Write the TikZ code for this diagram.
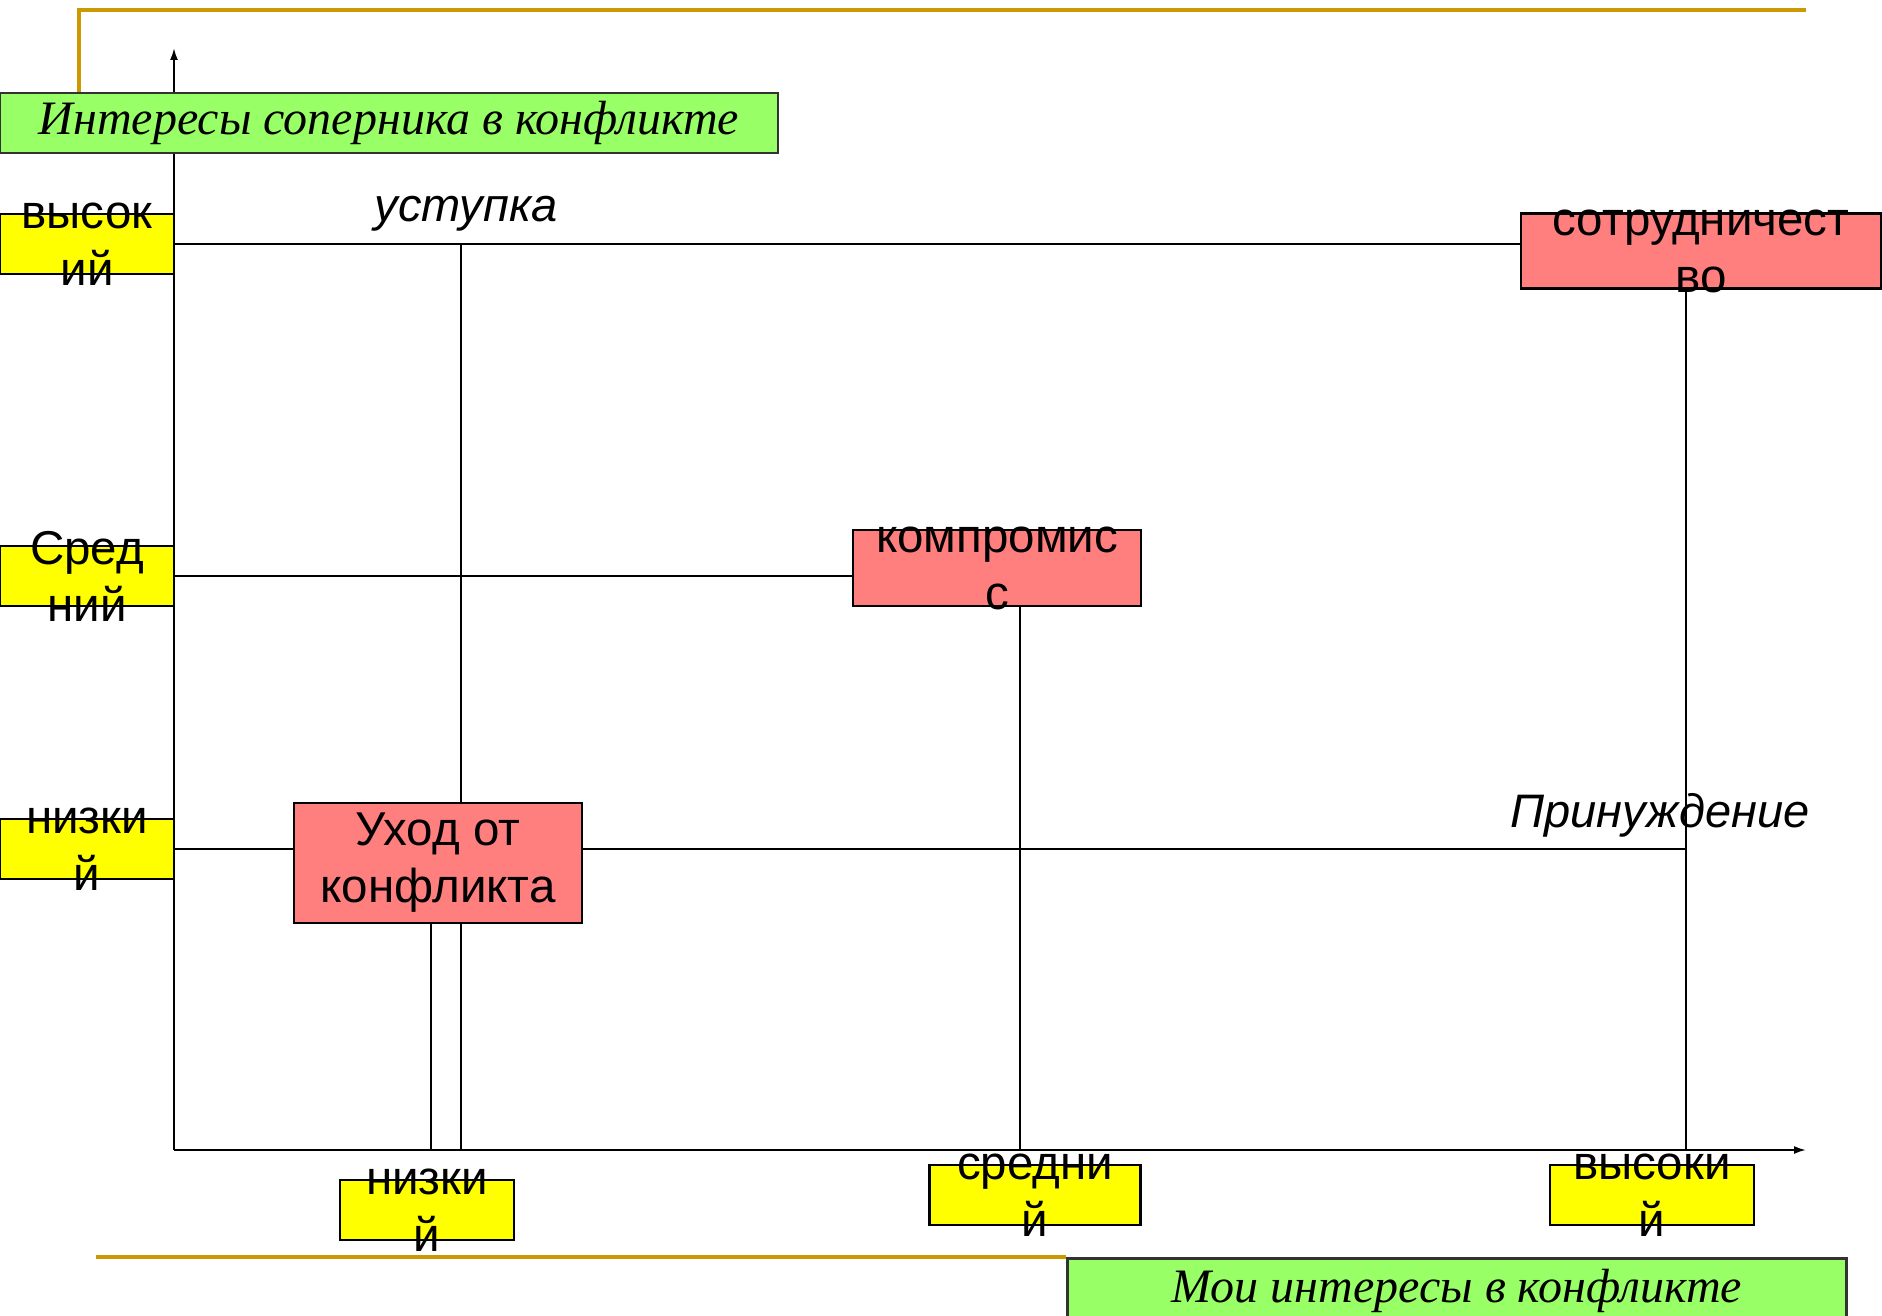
\documentclass[tikz,border=0pt]{standalone}
\usepackage{fontspec}
\setmainfont{Liberation Sans}
\newfontfamily\timesfont{Liberation Serif}
\usepackage{xcolor}
\definecolor{FrameGold}{HTML}{CC9900}
\definecolor{TitleGreen}{HTML}{99FF66}
\definecolor{LevelYellow}{HTML}{FFFF00}
\definecolor{StratRed}{HTML}{FF7F7F}
\usepackage{tikz}
\usetikzlibrary{arrows.meta}

\begin{document}
\begin{tikzpicture}[x=1pt,y=-1pt,>={Latex[length=12pt,width=8pt]},line width=2pt,
title/.style={draw=black!80,fill=TitleGreen,line width=2.5pt,minimum height=60pt,inner sep=0pt,font=\timesfont\itshape\fontsize{48}{58}\selectfont},
level/.style={draw,fill=LevelYellow,line width=2.5pt,minimum height=60pt,inner sep=0pt},
strat/.style={draw,fill=StratRed,line width=2.5pt,inner sep=0pt,align=center,font=\fontsize{47.5}{57}\selectfont},
inside/.style={align=center,inner sep=0pt,font=\fontsize{47.5}{57}\selectfont},
tag/.style={anchor=base,inner sep=0pt,font=\itshape\fontsize{47}{57}\selectfont}]
\clip (0,0) rectangle (1882,1316);
\coordinate (o) at (174,1150);\coordinate (ytip) at (174,48);\coordinate (xtip) at (1806,1150);
\coordinate (uv) at (461,1150);\coordinate (wv) at (431,1150);\coordinate (kv) at (1020,1150);\coordinate (pv) at (1686,1150);
% frame and axes
\draw[FrameGold,line width=4pt] (79,92) -- (79,10) -- (1806,10);
\draw[->] (o)--(ytip);\draw[->] (o)--(xtip);
% titles
\node[title,minimum width=778pt] (gtop) at (389,123) {Интересы соперника в конфликте};
\node[title,minimum width=779pt,minimum height=66pt,anchor=north west] (gbot) at (1066,1257) {Мои интересы в конфликте};
\draw[FrameGold,line width=4pt] (gbot.north west) -- ++(-970,0);
% levels
\node[level,minimum width=174pt,label={[inside]center:{высок\\ий}}] (yhigh) at (87,244) {};
\node[level,minimum width=174pt,label={[inside]center:{Сред\\ний}}] (ymid) at (87,576) {};
\node[level,minimum width=174pt,label={[inside]center:{низки\\й}}] (ylow) at (87,849) {};
\node[level,minimum width=174pt,label={[inside]center:{низки\\й}}] (xlow) at (427,1210) {};
\node[level,minimum width=211pt,label={[inside]center:{средни\\й}}] (xmid) at (1035,1195) {};
\node[level,minimum width=204pt,label={[inside]center:{высоки\\й}}] (xhigh) at (1652,1195) {};
% strategies
\node[strat,minimum width=360pt,minimum height=75pt,label={[inside]center:{сотрудничест\\во}}] (coop) at (1701,251) {};
\node[strat,minimum width=288pt,minimum height=76pt,label={[inside]center:{компромис\\с}}] (kom) at (997,568) {};
\node[strat,minimum width=288pt,minimum height=120pt] (avoid) at (438,863) {Уход от\\конфликта};
\node[tag] (conc) at (466,222) {уступка};
\node[tag] (force) at (1660,827) {Принуждение};
% grid lines
\draw (yhigh.east)--(coop.west |- yhigh.east);\draw (ymid.east)--(kom.west |- ymid.east);\draw (ylow.east)--(avoid.west |- ylow.east);
\draw (avoid.east |- ylow.east)--(pv |- ylow.east);
\draw (uv |- yhigh.east)--(uv |- avoid.north);\draw (uv |- avoid.south)--(uv);\draw (wv |- avoid.south)--(wv);
\draw (kv |- kom.south)--(kv);\draw (pv |- coop.south)--(pv);
\end{tikzpicture}
\end{document}
